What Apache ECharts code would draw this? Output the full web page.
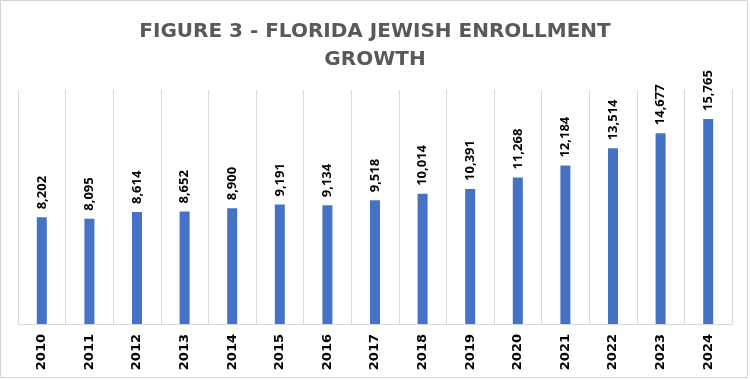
<!DOCTYPE html>
<html>
<head>
<meta charset="utf-8">
<script src="https://cdn.jsdelivr.net/npm/echarts@6/dist/echarts.min.js"></script>
<style>
html,body{margin:0;padding:0;background:#fff;}
#chart{width:750px;height:380px;}
</style>
</head>
<body>
<div id="chart"></div>
<script>
const titleText = "FIGURE 3 - FLORIDA JEWISH ENROLLMENT\nGROWTH";
const years = ["2010","2011","2012","2013","2014","2015","2016","2017","2018","2019","2020","2021","2022","2023","2024"];
const enrollment = [8202, 8095, 8614, 8652, 8900, 9191, 9134, 9518, 10014, 10391, 11268, 12184, 13514, 14677, 15765];

const chart = echarts.init(document.getElementById('chart'));
chart.setOption({
  animation: false,
  backgroundColor: '#ffffff',
  title: {
    text: titleText,
    left: 'center',
    top: 13,
    textStyle: {
      fontFamily: 'DejaVu Sans',
      fontWeight: 'bold',
      fontSize: 20,
      color: '#595959',
      lineHeight: 28
    }
  },
  graphic: [{
    type: 'rect',
    shape: {x: 0.5, y: 0.5, width: 747, height: 377},
    style: {fill: 'none', stroke: '#d4d4d4', lineWidth: 1},
    silent: true
  }],
  grid: {left: 18, right: 18, top: 90, bottom: 56},
  xAxis: {
    type: 'category',
    data: years,
    boundaryGap: true,
    axisLine: {show: true, lineStyle: {color: '#d9d9d9', width: 1}},
    axisTick: {show: false},
    splitLine: {show: true, lineStyle: {color: '#d9d9d9', width: 1}},
    axisLabel: {
      rotate: 90,
      margin: 10,
      fontFamily: 'DejaVu Sans',
      fontWeight: 'bold',
      fontSize: 13,
      color: '#000000'
    }
  },
  yAxis: {
    type: 'value',
    min: 0,
    max: 18000,
    show: false,
    splitLine: {show: false}
  },
  series: [{
    type: 'bar',
    data: enrollment,
    barWidth: 10,
    itemStyle: {color: '#4472C4'},
    label: {
      show: true,
      position: 'top',
      rotate: 90,
      align: 'left',
      verticalAlign: 'middle',
      distance: 8,
      fontFamily: 'Open Sans',
      fontWeight: 'bold',
      fontSize: 13,
      color: '#000000',
      formatter: function (p) { return p.value.toLocaleString('en-US'); }
    }
  }]
});
</script>
</body>
</html>
